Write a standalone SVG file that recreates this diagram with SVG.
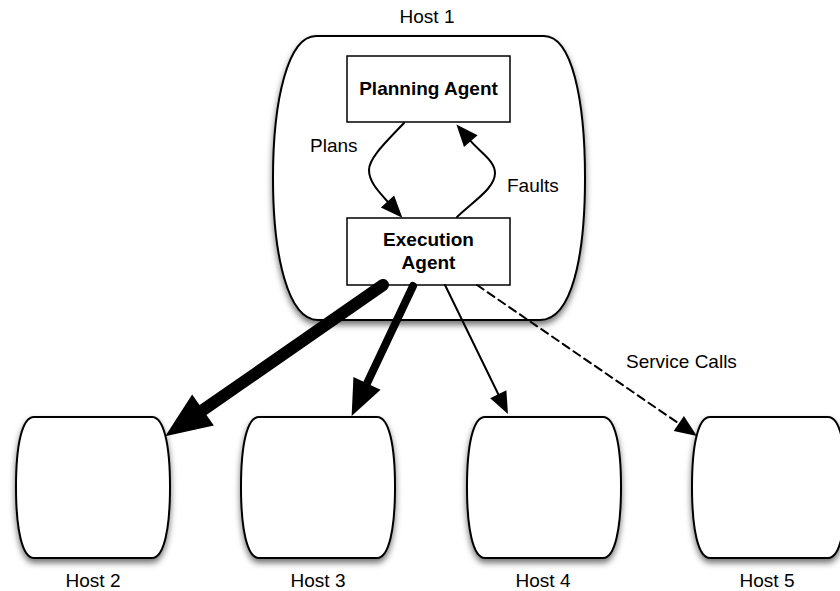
<svg xmlns="http://www.w3.org/2000/svg" width="840" height="591" viewBox="0 0 840 591">
  <style>
    .host { fill: #fff; stroke: #000; stroke-width: 2; filter: url(#shadow); }
    .box { fill: #fff; stroke: #000; stroke-width: 1.5; }
    .lbl { font-family: "Liberation Sans", Arial, Helvetica, sans-serif; font-size: 19px; fill: #000; }
    .bold { font-weight: bold; text-anchor: middle; }
    .mid { text-anchor: middle; }
    .conn { fill: none; stroke: #000; stroke-linecap: round; }
  </style>
  <defs>
    <filter id="shadow" x="-20%" y="-20%" width="140%" height="140%">
      <feDropShadow dx="0" dy="4" stdDeviation="3" flood-color="#000" flood-opacity="0.55"/>
    </filter>
    <marker id="headXL" markerUnits="userSpaceOnUse" markerWidth="48" markerHeight="40" refX="0" refY="19" orient="auto" overflow="visible">
      <path d="M0,0 L46,19 L0,38 Z" fill="#000"/>
    </marker>
    <marker id="headL" markerUnits="userSpaceOnUse" markerWidth="38" markerHeight="32" refX="0" refY="15" orient="auto" overflow="visible">
      <path d="M0,0 L36,15 L0,30 Z" fill="#000"/>
    </marker>
    <marker id="headS" markerUnits="userSpaceOnUse" markerWidth="24" markerHeight="20" refX="0" refY="9" orient="auto" overflow="visible">
      <path d="M0,0 L22,9 L0,18 Z" fill="#000"/>
    </marker>
  </defs>

  <!-- Host 1 with its two agents -->
  <g id="host1">
    <path class="host" d="M316,36 L544,36 C572,36 585,100 585,178 C585,256 572,320 540,320 L318,320 C288,320 273,256 273,178 C273,100 288,36 316,36 Z"/>
    <text class="lbl mid" x="427" y="23">Host 1</text>
  </g>
  <g id="planning-agent">
    <rect class="box" x="347" y="56" width="163" height="66"/>
    <text class="lbl bold" x="428.5" y="95">Planning Agent</text>
  </g>
  <g id="execution-agent">
    <rect class="box" x="347" y="218" width="163" height="67"/>
    <text class="lbl bold" x="428.5" y="246">Execution</text>
    <text class="lbl bold" x="428.5" y="269">Agent</text>
  </g>

  <!-- Remote hosts -->
  <g id="host2">
    <path class="host" d="M34,417 L152,417 C164,417 170,445 170,487 C170,529 164,558 152,558 L34,558 C22,558 16,529 16,487 C16,445 22,417 34,417 Z"/>
    <text class="lbl mid" x="93" y="587">Host 2</text>
  </g>
  <g id="host3">
    <path class="host" d="M259,417 L377,417 C389,417 395,445 395,487 C395,529 389,558 377,558 L259,558 C247,558 241,529 241,487 C241,445 247,417 259,417 Z"/>
    <text class="lbl mid" x="318" y="587">Host 3</text>
  </g>
  <g id="host4">
    <path class="host" d="M485,417 L603,417 C615,417 621,445 621,487 C621,529 615,558 603,558 L485,558 C473,558 467,529 467,487 C467,445 473,417 485,417 Z"/>
    <text class="lbl mid" x="543" y="587">Host 4</text>
  </g>
  <g id="host5">
    <path class="host" d="M710,417 L828,417 C840,417 846,445 846,487 C846,529 840,558 828,558 L710,558 C698,558 692,529 692,487 C692,445 698,417 710,417 Z"/>
    <text class="lbl mid" x="767" y="587">Host 5</text>
  </g>

  <!-- Connectors -->
  <g id="connectors">
    <path class="conn" stroke-width="2" d="M404,123 C385,143 369,158 369,170 C369,181 377,190 387.5,201.5" marker-end="url(#headS)"/>
    <path class="conn" stroke-width="2" d="M457,217 C475,200 495,188 495,173 C495,161 481,153 470.8,141.2" marker-end="url(#headS)"/>
    <path class="conn" stroke-width="12" d="M383,285 L203,410" marker-end="url(#headXL)"/>
    <path class="conn" stroke-width="8" d="M413,286 L367,383.4" marker-end="url(#headL)"/>
    <path class="conn" stroke-width="2" d="M445,285 L498.3,394.2" marker-end="url(#headS)"/>
    <path class="conn" stroke-width="2" stroke-dasharray="8 5" stroke-linecap="butt" d="M477,285 L678.8,423.5" marker-end="url(#headS)"/>
    <text class="lbl" x="310" y="152">Plans</text>
    <text class="lbl" x="507" y="192">Faults</text>
    <text class="lbl" x="626" y="368">Service Calls</text>
  </g>
</svg>
